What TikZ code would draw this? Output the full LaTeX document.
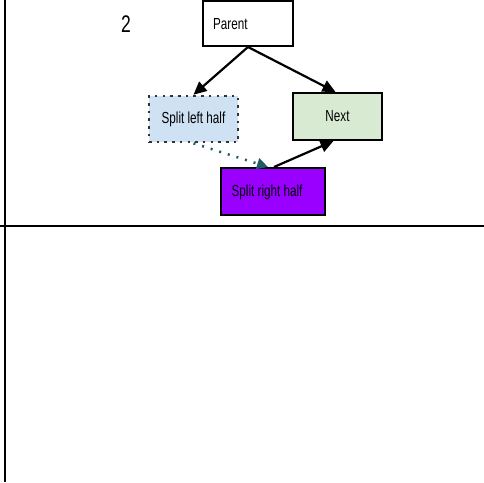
\documentclass[tikz,border=0pt]{standalone}
\usepackage{fontspec}
\newfontfamily\narrowsans[FakeStretch=0.73]{Liberation Sans}
\usetikzlibrary{arrows.meta}
\definecolor{leftfill}{HTML}{CFE2F3}
\definecolor{nextfill}{HTML}{D9EAD3}
\definecolor{rightfill}{HTML}{9900FF}
\definecolor{dotteal}{HTML}{1E5B66}
\tikzset{
  label/.style={font=\narrowsans\fontsize{16}{18}\selectfont, inner sep=0pt, text=black},
  box/.style={draw=black, line width=2pt, inner sep=0pt, label},
  link/.style={draw=black, line width=2.2pt, -{Triangle[length=13pt,width=12pt]}},
}
\begin{document}
\begin{tikzpicture}[x=1pt,y=-1pt]
  \useasboundingbox (0,0) rectangle (484,482);
  % frame lines
  \draw[line width=2pt] (5,0) -- (5,482);
  \draw[line width=2pt] (0,226) -- (484,226);
  % panel number
  \node[font=\narrowsans\fontsize{24}{26}\selectfont, inner sep=0pt, anchor=base] (num) at (126,32) {2};
  % boxes
  \node[box, fill=white, minimum width=90pt, minimum height=45pt] (parent) at (248,23.5) {};
  \node[label, anchor=base west] (parenttxt) at (213,29) {Parent};
  \node[box, fill=leftfill, draw=black!80, dash pattern=on 2.5pt off 5.2pt, line width=2.6pt,
        minimum width=89pt, minimum height=46pt] (splitleft) at (193.5,119) {Split left half};
  \node[box, fill=nextfill, minimum width=89pt, minimum height=47pt] (next) at (337.5,116.5) {Next};
  \node[box, fill=rightfill, minimum width=104pt, minimum height=47pt] (splitright) at (273,191.5) {};
  \node[label, anchor=base west] (righttxt) at (231.5,196.7) {Split right half};
  % connectors
  \draw[link] (parent.south) -- (splitleft.north);
  \draw[link] (parent.south) -- ([xshift=-2pt]next.north);
  \draw[link] ([xshift=1pt]splitright.north) -- ([xshift=-4pt]next.south);
  \draw[draw=dotteal, line width=2.5pt, dash pattern=on 2pt off 7pt,
        -{Triangle[length=11pt,width=11pt,fill=dotteal]}]
        (splitleft.south) -- ([xshift=-5pt]splitright.north);
\end{tikzpicture}
\end{document}
